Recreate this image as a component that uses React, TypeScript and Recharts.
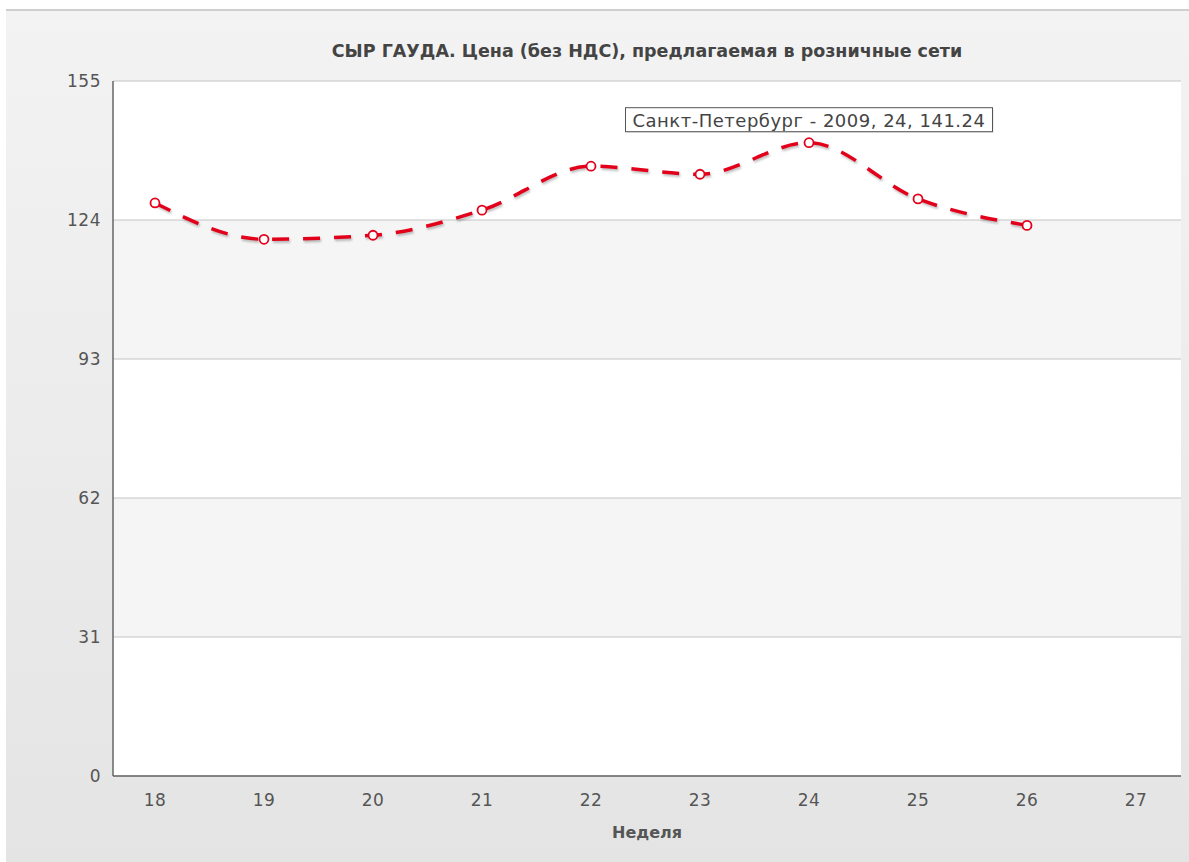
import React from 'react';
import { LineChart, Line, XAxis, YAxis, CartesianGrid, LabelList } from 'recharts';

const weeks = ['18', '19', '20', '21', '22', '23', '24', '25', '26', '27'];
const prices: (number | null)[] = [127.8, 119.7, 120.6, 126.2, 136.0, 134.2, 141.24, 128.7, 122.8, null];
const yTicks = [0, 31, 62, 93, 124, 155];
const seriesName = 'Санкт-Петербург';
const seriesYear = '2009';
const highlightIndex = 6;
const title = 'СЫР ГАУДА. Цена (без НДС), предлагаемая в розничные сети';
const xLabel = 'Неделя';

const data = weeks.map((w, i) => ({ week: w, price: prices[i] }));

const FONT = 'DejaVu Sans, Verdana, sans-serif';
const tickStyle = { fontFamily: FONT, fontSize: 17, fill: '#555', letterSpacing: 0.5 };

const TipLabel = (props: any) => {
  const { x, y, index, value } = props;
  if (index !== highlightIndex || value == null) return null;
  const text = `${seriesName} - ${seriesYear}, ${weeks[index]}, ${value}`;
  const w = 367;
  const h = 24;
  return (
    <g>
      <rect x={x - w / 2 + 1} y={y - 35 + 1} width={w} height={h} fill="rgba(0,0,0,0.12)" />
      <rect x={x - w / 2} y={y - 35} width={w} height={h} fill="#fff" stroke="#555" strokeWidth={1} />
      <text
        x={x}
        y={y - 35 + h / 2 + 1}
        textAnchor="middle"
        dominantBaseline="central"
        style={{ fontFamily: FONT, fontSize: 18, fill: '#444', letterSpacing: 0.5 }}
      >
        {text}
      </text>
    </g>
  );
};

export default function App() {
  return (
    <div style={{ position: 'absolute', left: 0, top: 0, width: 1189, height: 862, background: '#fff', overflow: 'hidden' }}>
      <style>{`.recharts-line-curve { filter: drop-shadow(1px 2px 1px rgba(0,0,0,0.25)); }`}</style>
      <div
        style={{
          position: 'absolute',
          left: 6,
          top: 9,
          width: 1183,
          height: 853,
          background: 'linear-gradient(#f3f3f3, #e4e4e4)',
          borderTop: '2px solid #cfcfcf',
        }}
      />
      <div
        style={{
          position: 'absolute',
          left: 113,
          width: 1068,
          top: 41,
          textAlign: 'center',
          fontFamily: FONT,
          fontWeight: 'bold',
          fontSize: 17.5,
          color: '#444',
        }}
      >
        {title}
      </div>
      <div style={{ position: 'absolute', left: 0, top: 0 }}>
        <LineChart width={1189} height={862} data={data} margin={{ top: 81, right: 8, left: 0, bottom: 0 }}>
          <CartesianGrid vertical={false} stroke="#c4c4c4" horizontalFill={['#ffffff', '#f5f5f5']} fillOpacity={1} />
          <XAxis
            dataKey="week"
            height={86}
            padding={{ left: 42, right: 45 }}
            tickLine={false}
            axisLine={{ stroke: '#666', strokeWidth: 1.5 }}
            tick={tickStyle}
            tickMargin={12}
            label={{
              value: xLabel,
              position: 'insideBottom',
              offset: 24,
              style: { fontFamily: FONT, fontWeight: 'bold', fontSize: 16, fill: '#555' },
            }}
          />
          <XAxis xAxisId="top" dataKey="week" orientation="top" height={0} tick={false} tickLine={false} axisLine={{ stroke: '#666', strokeWidth: 1.5 }} />
          <YAxis
            domain={[0, 155]}
            ticks={yTicks}
            width={113}
            tickLine={false}
            axisLine={{ stroke: '#666', strokeWidth: 1.5 }}
            tick={tickStyle}
            tickMargin={6}
          />
          <YAxis yAxisId="right" orientation="right" width={0} domain={[0, 155]} tick={false} tickLine={false} axisLine={{ stroke: '#666', strokeWidth: 2 }} />
          <Line
            type="monotone"
            dataKey="price"
            stroke="#e3001b"
            strokeWidth={3.5}
            strokeDasharray="17 14"
            dot={{ r: 4.5, stroke: '#e3001b', strokeWidth: 1.8, fill: '#fff', strokeDasharray: '0' }}
            activeDot={false}
            isAnimationActive={false}
            connectNulls={false}
          >
            <LabelList dataKey="price" content={<TipLabel />} />
          </Line>
        </LineChart>
      </div>
    </div>
  );
}
